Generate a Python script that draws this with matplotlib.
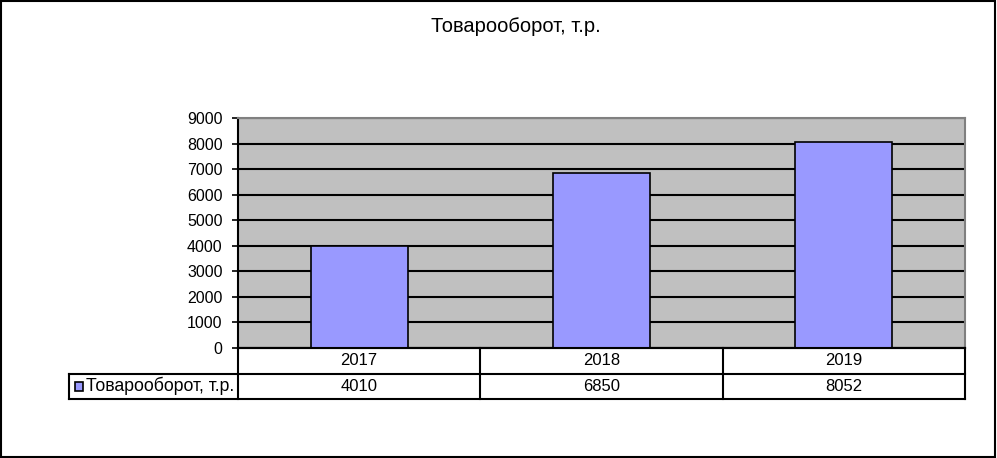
import matplotlib
matplotlib.use("Agg")
import matplotlib.pyplot as plt
from matplotlib.patches import Rectangle

plt.rcParams['font.family'] = ['Liberation Sans', 'DejaVu Sans']

# data
title = 'Товарооборот, т.р.'
series_name = 'Товарооборот, т.р.'
years = ['2017', '2018', '2019']
values = [4010, 6850, 8052]
yticks = list(range(0, 9001, 1000))

bar_color = '#9999FF'
plot_bg = '#C0C0C0'

W, H = 997, 458
fig = plt.figure(figsize=(W / 100, H / 100), dpi=100)

# outer frame of the chart
fig.patches.append(Rectangle((0.001, 0.002), 0.997, 0.996, transform=fig.transFigure,
                             fill=False, edgecolor='black', linewidth=1.5))

fig.text(516 / W, 1 - 26 / H, title, ha='center', va='center', fontsize=14.5)

# main plot area
left, right, top, bottom = 238, 965, 118, 348
ax = fig.add_axes([left / W, 1 - bottom / H, (right - left) / W, (bottom - top) / H])
ax.set_facecolor(plot_bg)
x = range(len(years))
ax.bar(x, values, width=0.4, color=bar_color, edgecolor='black', linewidth=1.2, zorder=3)
ax.set_xlim(-0.5, len(years) - 0.5)
ax.set_ylim(0, 9000)
ax.set_yticks(yticks)
ax.set_yticklabels([str(t) for t in yticks], fontsize=11.5)
ax.yaxis.grid(True, color='black', linewidth=1.5, zorder=1)
ax.set_axisbelow(True)
ax.set_xticks([])
ax.tick_params(axis='y', direction='out', length=4, width=1.2, pad=7)
for side in ['top', 'right']:
    ax.spines[side].set_color('#808080')
    ax.spines[side].set_linewidth(1.5)
ax.spines['left'].set_linewidth(1.5)
ax.spines['bottom'].set_linewidth(1.5)

# data table below the plot
tb_bottom = 399
axt = fig.add_axes([left / W, 1 - tb_bottom / H, (right - left) / W, (tb_bottom - bottom) / H])
axt.set_xlim(ax.get_xlim())
axt.set_ylim(0, 2)
axt.axis('off')
lw = 1.5
lbl_left = -(left - 69) / (right - left)  # axes fraction of label cell left edge
tr = axt.get_yaxis_transform()
# horizontal lines
axt.plot([-0.5, len(years) - 0.5], [2, 2], color='black', lw=lw, clip_on=False)
axt.plot([lbl_left, 1], [1, 1], color='black', lw=lw, transform=tr, clip_on=False)
axt.plot([lbl_left, 1], [0, 0], color='black', lw=lw, transform=tr, clip_on=False)
# vertical lines
for b in [i - 0.5 for i in range(len(years) + 1)]:
    axt.plot([b, b], [0, 2], color='black', lw=lw, clip_on=False)
axt.plot([lbl_left, lbl_left], [0, 1], color='black', lw=lw, transform=tr, clip_on=False)

for i, (yr, v) in enumerate(zip(years, values)):
    axt.text(i, 1.5, yr, ha='center', va='center', fontsize=12)
    axt.text(i, 0.5, str(v), ha='center', va='center', fontsize=12)

# legend key inside the label cell
key_x = lbl_left + 6 / (right - left)
axt.add_patch(Rectangle((key_x, 0.3), 8 / (right - left), 0.36, transform=tr,
                        facecolor=bar_color, edgecolor='black', linewidth=1.2, clip_on=False))
axt.text(lbl_left + 17 / (right - left), 0.5, series_name, transform=tr,
         ha='left', va='center', fontsize=12.7)

fig.savefig('out.png', dpi=100)
